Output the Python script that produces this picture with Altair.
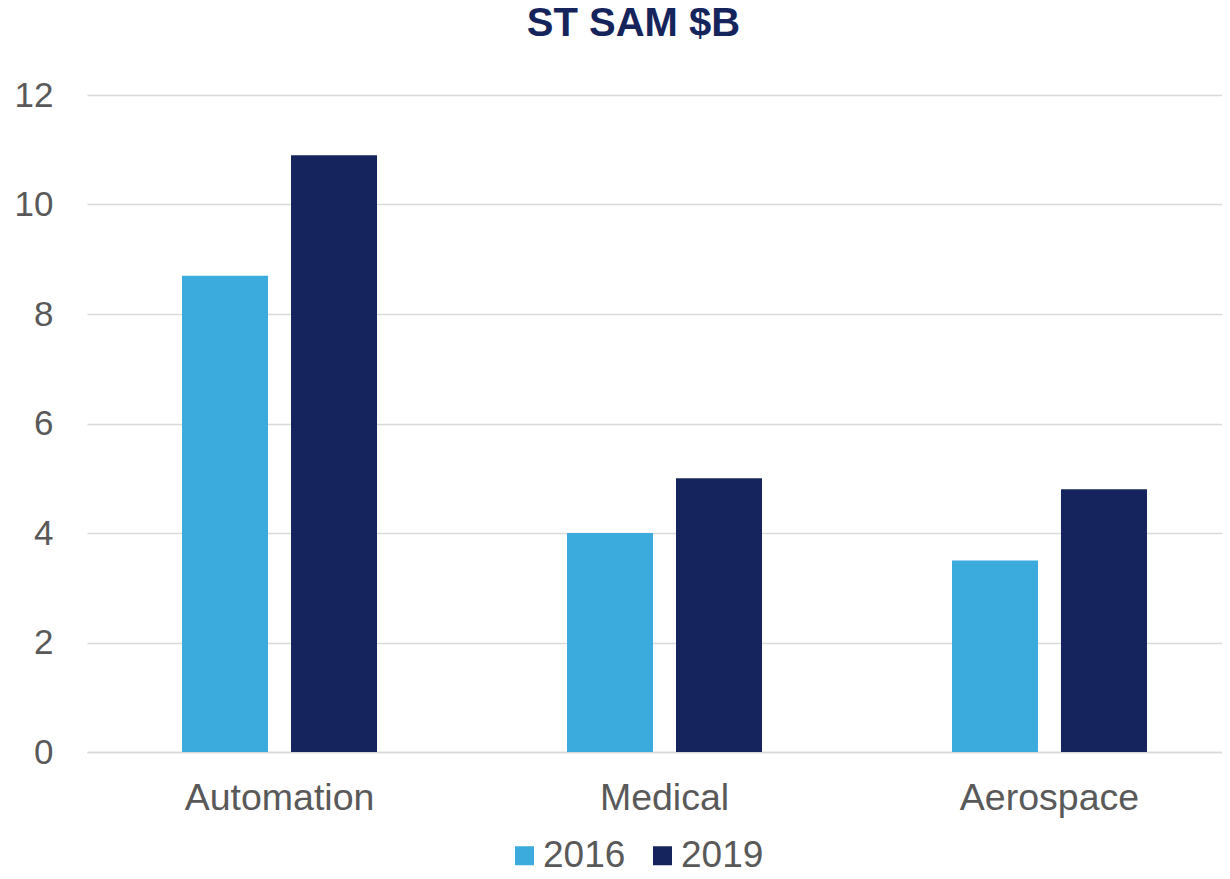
import altair as alt
import pandas as pd

categories = ["Automation", "Medical", "Aerospace"]
years = ["2016", "2019"]
values_2016 = [8.7, 4.0, 3.5]
values_2019 = [10.9, 5.0, 4.8]
y_ticks = [0, 2, 4, 6, 8, 10, 12]
colors = ["#3BAADC", "#15245C"]

rows = []
for c, v16, v19 in zip(categories, values_2016, values_2019):
    rows.append({"category": c, "year": years[0], "value": v16})
    rows.append({"category": c, "year": years[1], "value": v19})
df = pd.DataFrame(rows)

FONT = "Liberation Sans"
GRAY = "#595959"
GRID = "#D9D9D9"

chart = alt.Chart(df).mark_bar().encode(
    x=alt.X(
        "category:N",
        sort=categories,
        scale=alt.Scale(paddingInner=0.4935, paddingOuter=0.2468),
        axis=alt.Axis(
            title=None, labelAngle=0, labelFontSize=37.5, labelColor=GRAY,
            labelFont=FONT, ticks=False, tickSize=0, labelPadding=27,
            labelLimit=0, domainColor=GRID, domainWidth=1.5, grid=False,
        ),
    ),
    xOffset=alt.XOffset(
        "year:N", sort=years,
        scale=alt.Scale(paddingInner=0.211, paddingOuter=0),
    ),
    y=alt.Y(
        "value:Q",
        scale=alt.Scale(domain=[0, 12], nice=False),
        axis=alt.Axis(
            title=None, values=y_ticks, labelFontSize=35, labelColor=GRAY,
            labelFont=FONT, ticks=False, tickSize=0, domain=False,
            labelPadding=34, gridColor=GRID, gridWidth=1.5,
        ),
    ),
    color=alt.Color(
        "year:N",
        scale=alt.Scale(domain=years, range=colors),
        legend=alt.Legend(
            title=None, orient="none", legendX=419, legendY=742,
            direction="horizontal", symbolType="square", symbolSize=361,
            symbolStrokeWidth=0, labelFontSize=37, labelColor=GRAY,
            labelFont=FONT, labelOffset=0, columnPadding=18, padding=0,
        ),
    ),
).properties(
    width=1155,
    height=657,
    title=alt.TitleParams(
        text="ST SAM $B", fontSize=40, fontWeight="bold", color="#16245C",
        font=FONT, anchor="middle", dx=-31, offset=34,
    ),
    autosize=alt.AutoSizeParams(type="none"),
    padding={"left": 79, "top": 87, "right": -20, "bottom": 117},
).configure_view(strokeWidth=0)

chart.save("out.html", embed_options={"renderer": "svg", "actions": False})
